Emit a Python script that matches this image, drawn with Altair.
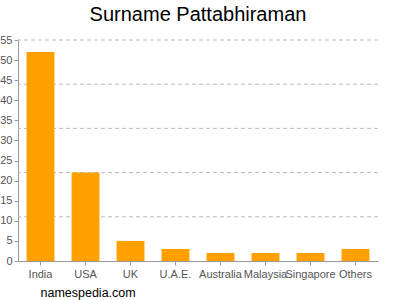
import altair as alt
import pandas as pd

countries = ["India", "USA", "UK", "U.A.E.", "Australia", "Malaysia", "Singapore", "Others"]
counts = [52, 22, 5, 3, 2, 2, 2, 3]
y_ticks = [0, 5, 10, 15, 20, 25, 30, 35, 40, 45, 50, 55]
grid_values = [11, 22, 33, 44, 55]

df = pd.DataFrame({"country": countries, "count": counts})
grid_df = pd.DataFrame({"g": grid_values})

yscale = alt.Scale(domain=[0, 55], nice=False)
yaxis = alt.Axis(values=y_ticks, title=None, grid=False, labelColor="#555555",
                 labelFontSize=11, labelFont="Liberation Sans",
                 domainColor="#999999", tickColor="#999999", tickSize=4,
                 labelPadding=2, labelOverlap=False, labelFlush=False)

bars = alt.Chart(df).mark_bar(color="#FFA000").encode(
    x=alt.X("country:N", sort=countries,
            scale=alt.Scale(paddingInner=0.38, paddingOuter=0.19),
            axis=alt.Axis(title="namespedia.com", titleX=22, titleY=31, titleAlign="left",
                          titleBaseline="middle",
                          titleColor="#000000", titleFontWeight="normal", titleFontSize=12.5,
                          titleFont="Liberation Sans",
                          labelAngle=0, labelColor="#555555", labelFontSize=11,
                          labelFont="Liberation Sans", labelPadding=3,
                          domainColor="#999999", tickColor="#999999", tickSize=4,
                          labelOverlap=False)),
    y=alt.Y("count:Q", scale=yscale, axis=yaxis),
)

grid = alt.Chart(grid_df).mark_rule(color="#BBBBBB", strokeDash=[4, 3], strokeWidth=1).encode(
    y=alt.Y("g:Q", scale=yscale, axis=yaxis)
)

chart = alt.layer(grid, bars).properties(
    width=360, height=221,
    autosize=alt.AutoSizeParams(type="none"),
    padding={"left": 18, "top": 40, "right": 22, "bottom": 39},
    title=alt.TitleParams("Surname Pattabhiraman", fontSize=20, font="Liberation Sans",
                          fontWeight="normal", color="#000000", anchor="middle", offset=9),
).configure_view(stroke=None)

chart.save("out.html", embed_options={"renderer": "svg", "actions": False})
